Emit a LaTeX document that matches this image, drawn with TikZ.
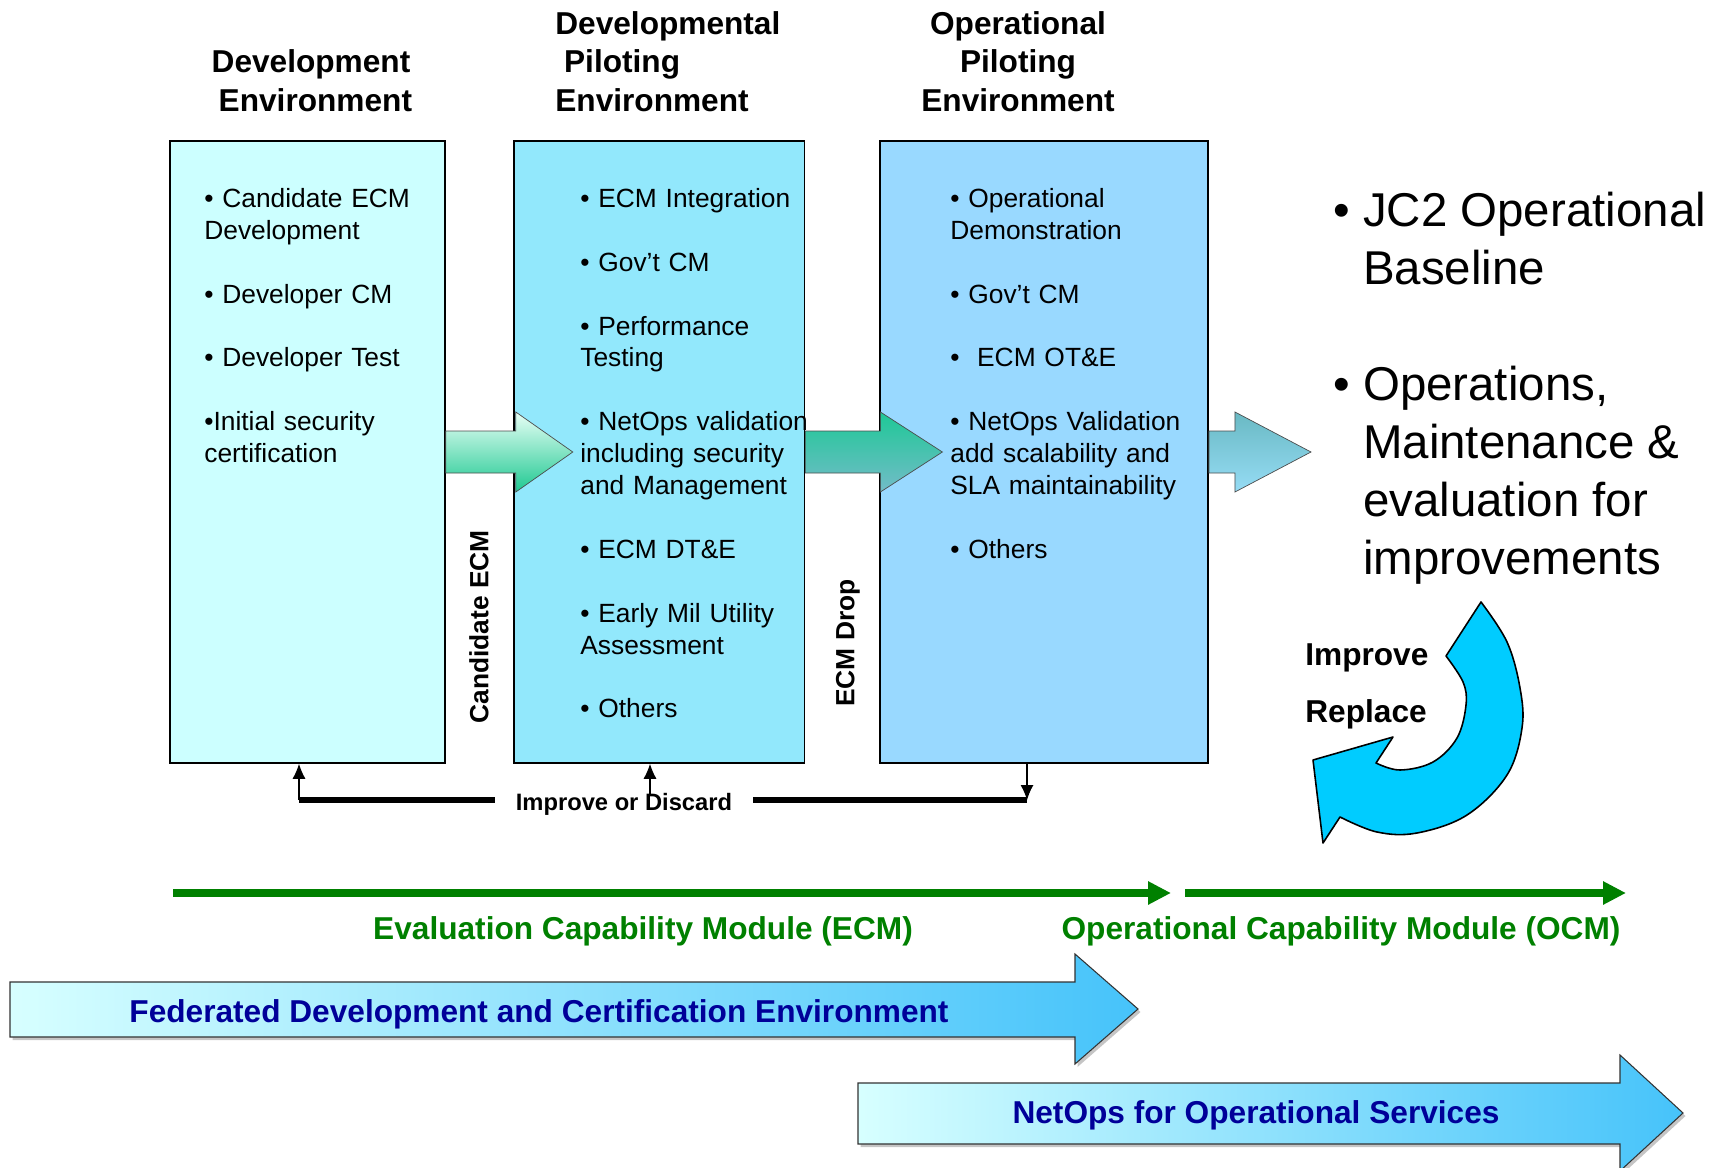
\documentclass[tikz,border=0pt]{standalone}
\usepackage{fontspec}
\setmainfont{Liberation Sans}
\usetikzlibrary{
	arrows.meta,
	positioning,
	calc,
	shadows
}
\definecolor{devfill}{RGB}{204,255,255}
\definecolor{pilotfill}{RGB}{146,232,252}
\definecolor{opfill}{RGB}{153,217,255}
\definecolor{modgreen}{RGB}{0,128,0}
\definecolor{bannerblue}{RGB}{0,0,153}
\definecolor{cycleblue}{RGB}{0,204,255}
\newcommand{\blankrow}{\\[\baselineskip]}

\begin{document}
\begin{tikzpicture}[
		x=0.2mm, y=-0.2mm,
		node distance = 13.6mm and 13.6mm,
		envbox/.style={
			draw,
			rectangle,
			line width=0.9pt,
			minimum height=124.4mm,
			inner sep=0pt
		},
		itemlist/.style={
			anchor=base west,
			inner sep=0pt,
			text width=60mm,
			align=left,
			font=\fontsize{15}{18.15}\selectfont
		},
		heading/.style={
			inner sep=0pt,
			text width=60mm,
			font=\fontsize{18}{21.8}\selectfont\bfseries
		},
		sidelabel/.style={
			rotate=90,
			inner sep=0pt,
			font=\fontsize{15}{18}\selectfont\bfseries
		},
		blockarrow/.style={
			draw=black!70,
			line width=0.4pt
		},
		banner/.style={
			draw=black!80,
			line width=0.6pt,
			left color={rgb,255:red,215;green,255;blue,255},
			right color={rgb,255:red,70;green,195;blue,250},
			drop shadow={shadow xshift=0.5mm, shadow yshift=-0.6mm, fill=black!45}
		},
		bannerlabel/.style={
			inner sep=0pt,
			text=bannerblue,
			font=\fontsize{18}{21}\selectfont\bfseries
		},
		modarrow/.style={
			draw=modgreen,
			line width=1.5mm,
			-{Triangle[length=4.6mm,width=4.4mm]}
		},
		modlabel/.style={
			inner sep=0pt,
			text=modgreen,
			font=\fontsize{18}{21}\selectfont\bfseries
		},
		loopline/.style={
			draw,
			line width=1.2mm
		},
		looparrow/.style={
			draw,
			line width=0.6pt,
			-{Latex[length=3mm,width=2.6mm]}
		}
	]
	\useasboundingbox (0,0) rectangle (1724,1168);

	% environments
	\node[envbox, fill=devfill, minimum width=55mm] (b1) at (307.5,452) {};
	\node[envbox, fill=pilotfill, minimum width=58.1mm, right=13.5mm of b1] (b2) {};
	\node[envbox, fill=opfill, minimum width=65.6mm, right=14.8mm of b2] (b3) {};

	\node[heading, align=center, anchor=base] (h1) at (311,73) {Development\\\hspace*{5pt}Environment};
	\node[heading, align=left, anchor=base west] (h2) at (555,34.5) {Developmental\\\hspace*{5pt}Piloting\\Environment};
	\node[heading, align=center, anchor=base] (h3) at (1018,34.5) {Operational\\Piloting\\Environment};

	% block arrows between the boxes
	\shadedraw[blockarrow, top color={rgb,255:red,232;green,255;blue,246}, bottom color={rgb,255:red,30;green,200;blue,145}]
		([yshift=4.2mm]b1.east) -- ++(70,0) -- ++(0,-19) -- ++(57,40) -- ++(-57,40) -- ++(0,-19) -- ++(-70,0) -- cycle;
	\shadedraw[blockarrow, top color={rgb,255:red,30;green,200;blue,150}, bottom color={rgb,255:red,115;green,188;blue,200}]
		([yshift=4.2mm]b2.east) -- ++(75,0) -- ++(0,-19) -- ++(62,40) -- ++(-62,40) -- ++(0,-19) -- ++(-75,0) -- cycle;
	\shadedraw[blockarrow, top color={rgb,255:red,105;green,185;blue,195}, bottom color={rgb,255:red,150;green,220;blue,245}]
		([yshift=4.2mm]b3.east) -- ++(26,0) -- ++(0,-19) -- ++(76,40) -- ++(-76,40) -- ++(0,-19) -- ++(-26,0) -- cycle;

	% box contents
	\node[itemlist] (t1) at (204,207.5) {• Candidate ECM\\Development\blankrow
		• Developer CM\blankrow
		• Developer Test\blankrow
		•Initial security\\certification};
	\node[itemlist] (t2) at (580,207.5) {• ECM Integration\blankrow
		• Gov’t CM\blankrow
		• Performance\\Testing\blankrow
		• NetOps validation\\including security\\and Management\blankrow
		• ECM DT\&E\blankrow
		• Early Mil Utility\\Assessment\blankrow
		• Others};
	\node[itemlist] (t3) at (950,207.5) {• Operational\\Demonstration\blankrow
		• Gov’t CM\blankrow
		•\ \ ECM OT\&E\blankrow
		• NetOps Validation\\add scalability and\\SLA maintainability\blankrow
		• Others};

	\node[sidelabel] (cand) at (479,627) {Candidate ECM};
	\node[sidelabel] (drop) at (848,643) {ECM Drop};

	% improve or discard loop
	\node[inner xsep=4.2mm, inner ysep=0pt, font=\fontsize{13.5}{16}\selectfont\bfseries] (iod) at (624,804) {Improve or Discard};
	\coordinate (lc) at (299,800);
	\coordinate (rc) at (1027,800);
	\coordinate (mc) at (650,796);
	\draw[loopline] (iod.west |- lc) -- (lc);
	\draw[looparrow] (lc) -- (lc |- b1.south);
	\draw[loopline] (iod.east |- rc) -- (rc);
	\draw[looparrow] (rc |- b3.south) -- (rc);
	\draw[looparrow, {Latex[length=3mm,width=2.6mm]}-] (mc |- b2.south) -- (mc);

	% right hand text
	\node[anchor=base west, inner sep=0pt, font=\fontsize{27}{33}\selectfont] (ops) at (1333,227) {%
		\begin{tabular}[t]{@{}l@{\hspace{7.5pt}}l@{}}
		• & JC2 Operational\\ & Baseline\\[33pt]
		• & Operations,\\ & Maintenance \&\\ & evaluation for\\ & improvements
		\end{tabular}};

	\filldraw[fill=cycleblue, draw=black, line width=0.9pt, line join=round]
		(1481,602) -- (1446,656)
		-- plot[smooth, tension=0.6] coordinates {(1446,656) (1463,682) (1466,705) (1457,738) (1433,762) (1400,770) (1376,763)}
		-- (1393,737) -- (1313,760) -- (1323,843) -- (1340,817)
		-- plot[smooth, tension=0.6] coordinates {(1340,817) (1377,832) (1417,833) (1467,815) (1507,775) (1522,728) (1520,688) (1507,642) (1481,602)}
		-- cycle;
	\node[anchor=base west, inner sep=0pt, text width=40mm, align=left, font=\fontsize{18}{32.9}\selectfont\bfseries] (imp) at (1305,665) {Improve\\Replace};

	% capability modules
	\coordinate (e1) at (173,893);
	\coordinate (e2) at (1171,893);
	\coordinate (o1) at (1185,893);
	\coordinate (o2) at (1626,893);
	\draw[modarrow] (e1) -- (e2);
	\draw[modarrow] (o1) -- (o2);
	\node[modlabel] (ecm) at (643,931) {Evaluation Capability Module (ECM)};
	\node[modlabel] (ocm) at (1341,931) {Operational Capability Module (OCM)};

	% environments banners
	\shadedraw[banner] (10,982) -- (1075,982) -- (1075,954) -- (1138,1009) -- (1075,1064) -- (1075,1037) -- (10,1037) -- cycle;
	\node[bannerlabel] (fed) at (539,1014) {Federated Development and Certification Environment};
	\shadedraw[banner] (858,1083) -- (1620,1083) -- (1620,1055) -- (1683,1113) -- (1620,1171) -- (1620,1144) -- (858,1144) -- cycle;
	\node[bannerlabel] (nos) at (1256,1115) {NetOps for Operational Services};
\end{tikzpicture}
\end{document}
